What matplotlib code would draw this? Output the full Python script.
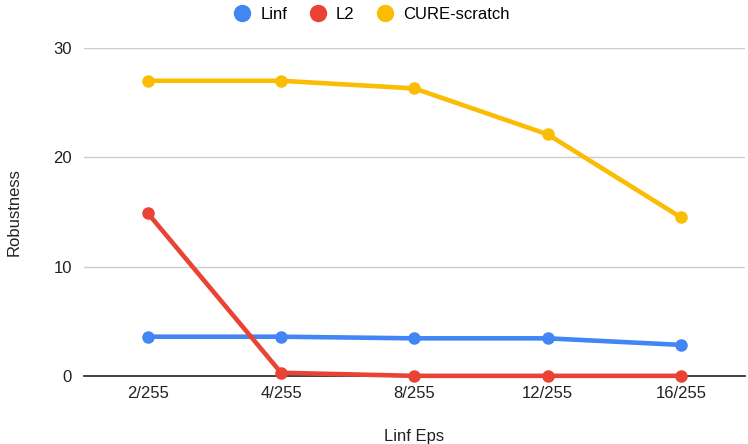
import matplotlib.pyplot as plt
from matplotlib.lines import Line2D

plt.rcParams['font.family'] = ['Liberation Sans', 'DejaVu Sans']

eps_labels = ["2/255", "4/255", "8/255", "12/255", "16/255"]
linf = [3.6, 3.6, 3.45, 3.45, 2.85]
l2 = [14.9, 0.3, 0.02, 0.02, 0.02]
cure = [27.0, 27.0, 26.3, 22.1, 14.5]

series = [
    ("Linf", linf, "#4285F4"),
    ("L2", l2, "#EA4335"),
    ("CURE-scratch", cure, "#FBBC04"),
]

FS = 12
TXT = "#222222"

fig = plt.figure(figsize=(7.48, 4.44), dpi=100, facecolor="white")
ax = fig.add_axes([0.112, 0.153, 0.884, 0.739])

x = list(range(len(eps_labels)))
for i, (name, vals, color) in enumerate(series):
    ax.plot(x, vals, color=color, linewidth=3.3, marker="o", markersize=8,
            solid_capstyle="round", zorder=3 + i, clip_on=False)

ax.set_xlim(-0.48, 4.48)
ax.set_ylim(0, 30)
ax.set_yticks([0, 10, 20, 30])
ax.set_xticks(x)
ax.set_xticklabels(eps_labels)
ax.grid(axis="y", color="#cccccc", linewidth=1)
ax.set_axisbelow(True)
for side in ["top", "right", "left"]:
    ax.spines[side].set_visible(False)
ax.spines["bottom"].set_color("#333333")
ax.spines["bottom"].set_linewidth(1.3)
ax.spines["bottom"].set_zorder(2)
ax.tick_params(length=0, labelsize=FS, colors=TXT)
ax.tick_params(axis="x", pad=7)
ax.tick_params(axis="y", pad=8.5)

# axis titles placed in figure coordinates
fig.text(0.019, 0.523, "Robustness", rotation=90, ha="center", va="center",
         fontsize=FS, color=TXT)
fig.text(0.553, 0.016, "Linf Eps", ha="center", va="center",
         fontsize=FS, color=TXT)

handles = [Line2D([], [], linestyle="none", marker="o", markersize=11.5,
                  color=c) for _, _, c in series]
fig.legend(handles, [s[0] for s in series], loc="center",
           bbox_to_anchor=(0.497, 0.968), ncol=3, frameon=False,
           fontsize=FS, handletextpad=0.6, columnspacing=1.3,
           handlelength=1.0, borderaxespad=0, borderpad=0)

fig.savefig("out.png", dpi=100, facecolor="white")
